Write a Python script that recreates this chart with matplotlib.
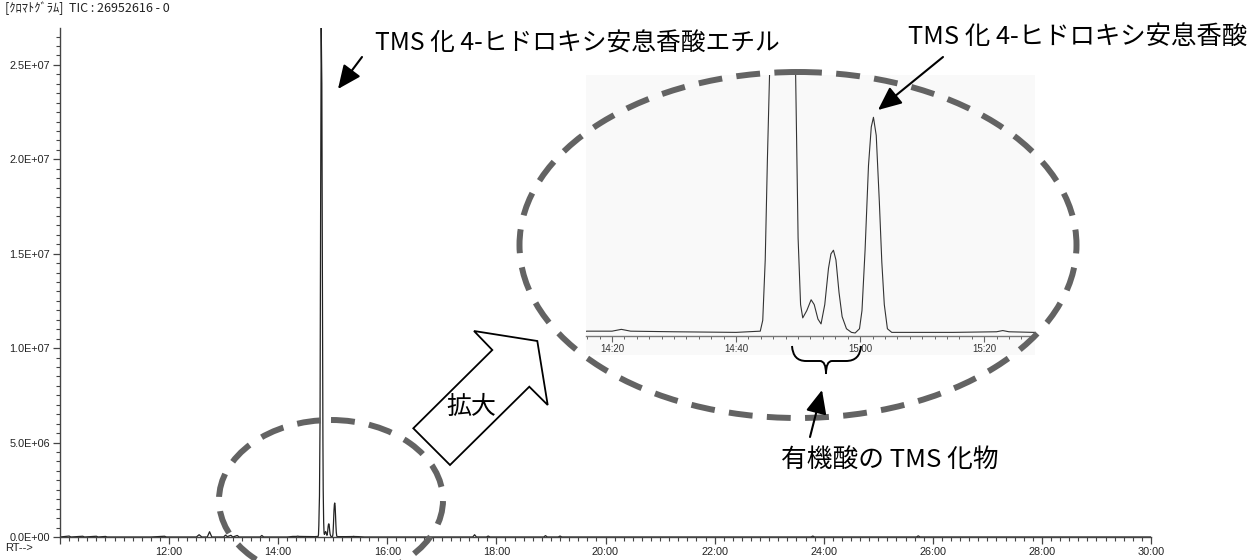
import matplotlib
matplotlib.use("Agg")
import matplotlib.pyplot as plt
from matplotlib import font_manager
from matplotlib.patches import Ellipse, Polygon, Rectangle, PathPatch
from matplotlib.path import Path
from matplotlib.ticker import MultipleLocator, FuncFormatter

# ---------------- data (retention time in seconds, TIC in 1e6 counts) ----------------
rt_s = [600, 610, 612, 625, 627, 640, 642, 650, 652, 700, 715, 717, 750, 753, 756,
        762, 764.5, 767, 780, 782, 784, 788, 790, 795, 797, 820, 822, 824, 850,
        856, 860, 861.5, 863, 870, 880, 883.9, 884.3, 884.7, 885.05, 885.4, 886.0,
        886.7, 887.3, 888.0, 888.6, 889.2, 889.5, 890.0, 890.4, 890.75, 891.4, 892.1,
        892.6, 893.2, 893.7, 894.3, 894.9, 895.3, 895.7, 896.1, 896.6, 897.1, 897.8,
        898.6, 899.2, 899.9, 900.3, 900.8, 901.35, 901.8, 902.15, 902.6, 903.1, 903.5,
        903.9, 904.4, 905.1, 915, 922, 923, 924, 928, 935,
        1054, 1056, 1058, 1069, 1071, 1073, 1132, 1134, 1136, 1148, 1150, 1152, 1426, 1428, 1430,
        1542, 1544, 1546, 1800]
tic_1e6 = [0.0, 0.05, 0.0, 0.04, 0.0, 0.04, 0.0, 0.03, 0.0, 0.0, 0.04, 0.0, 0.0, 0.12, 0.0,
           0.0, 0.28, 0.0, 0.0, 0.10, 0.02, 0.09, 0.0, 0.08, 0.0, 0.0, 0.08, 0.0, 0.0,
           0.03, 0.03, 0.045, 0.03, 0.025, 0.02, 0.03, 0.12, 0.62, 1.45, 2.16, 6.0,
           18.0, 26.95, 24.0, 14.0, 5.0, 2.5, 0.8, 0.25, 0.14, 0.20, 0.29,
           0.25, 0.13, 0.09, 0.25, 0.55, 0.67, 0.70, 0.62, 0.35, 0.15, 0.05,
           0.02, 0.015, 0.05, 0.20, 0.70, 1.40, 1.72, 1.80, 1.65, 1.10, 0.60,
           0.25, 0.05, 0.02, 0.02, 0.025, 0.035, 0.025, 0.02, 0.0,
           0.0, 0.12, 0.0, 0.0, 0.05, 0.0, 0.0, 0.07, 0.0, 0.0, 0.05, 0.0, 0.0, 0.05, 0.0,
           0.0, 0.06, 0.0, 0.0]

header = "[ｸﾛﾏﾄｸﾞﾗﾑ]  TIC : 26952616 - 0"
label_ester = "TMS 化 4-ヒドロキシ安息香酸エチル"
label_acid = "TMS 化 4-ヒドロキシ安息香酸"
label_organic = "有機酸の TMS 化物"
label_zoom = "拡大"

# ---------------- fonts ----------------
avail = {f.name for f in font_manager.fontManager.ttflist}
tick_font = ['Liberation Sans Narrow'] if 'Liberation Sans Narrow' in avail else ['Liberation Sans']
jp_font = ['Noto Sans CJK JP', 'DejaVu Sans']

W, H = 1259, 560
fig = plt.figure(figsize=(W / 100, H / 100), dpi=100)
fig.patch.set_facecolor('white')


def px_rect(x0, y0, x1, y1):
    return [x0 / W, 1 - y1 / H, (x1 - x0) / W, (y1 - y0) / H]


def mmss(v, pos=None):
    v = int(round(v))
    return f"{v // 60}:{v % 60:02d}"


# ---------------- main chromatogram ----------------
ax = fig.add_axes(px_rect(60, 28, 1151, 537))
ax.plot(rt_s, tic_1e6, color='#222222', lw=0.9)
ax.set_xlim(600, 1800)
ax.set_ylim(0, 26.952616)
for s in ['top', 'right']:
    ax.spines[s].set_visible(False)
for s in ['left', 'bottom']:
    ax.spines[s].set_color('#444444')
    ax.spines[s].set_linewidth(1.0)
ax.xaxis.set_major_locator(MultipleLocator(120))
ax.xaxis.set_minor_locator(MultipleLocator(10))
ax.xaxis.set_major_formatter(FuncFormatter(lambda v, p: '' if v < 660 else mmss(v)))
ax.yaxis.set_major_locator(MultipleLocator(5))
ax.yaxis.set_minor_locator(MultipleLocator(0.5))
ax.yaxis.set_major_formatter(FuncFormatter(lambda v, p: f"{v * 1e6:.1E}"))
ax.tick_params(which='major', length=5, width=0.9, color='#444444', labelsize=7.8, pad=2)
ax.tick_params(which='minor', length=3, width=0.8, color='#444444')
for lab in ax.get_xticklabels() + ax.get_yticklabels():
    lab.set_family(tick_font)
    lab.set_color('#222222')

# ---------------- inset (zoom) ----------------
bg = Rectangle((586 / W, 1 - 355 / H), (1035 - 586) / W, (355 - 75) / H,
               transform=fig.transFigure, facecolor='#f9f9f9', edgecolor='none', zorder=1)
fig.add_artist(bg)
axi = fig.add_axes(px_rect(586, 75, 1035, 336))
axi.set_zorder(2)
axi.patch.set_visible(False)
axi.plot(rt_s, tic_1e6, color='#333333', lw=0.8)
axi.set_xlim(855.8, 928.2)
axi.set_ylim(-0.01, 2.15)
for s in ['top', 'right', 'left']:
    axi.spines[s].set_visible(False)
axi.spines['bottom'].set_color('#777777')
axi.spines['bottom'].set_linewidth(1.0)
axi.set_yticks([])
axi.xaxis.set_major_locator(MultipleLocator(20))
axi.xaxis.set_minor_locator(MultipleLocator(2))
axi.xaxis.set_major_formatter(FuncFormatter(mmss))
axi.tick_params(which='major', length=4, width=0.8, color='#666666', labelsize=7, pad=1.5)
axi.tick_params(which='minor', length=2.5, width=0.7, color='#666666')
for lab in axi.get_xticklabels():
    lab.set_family(tick_font)
    lab.set_color('#333333')

# ---------------- overlay annotations (pixel coordinates) ----------------
ov = fig.add_axes([0, 0, 1, 1])
ov.set_zorder(3)
ov.patch.set_visible(False)
ov.set_xlim(0, W)
ov.set_ylim(H, 0)
ov.axis('off')

dash = (0, (4.0, 2.4))
ov.add_patch(Ellipse((798, 245), 557, 346, fill=False, edgecolor='#636363',
                     lw=4.3, linestyle=dash, capstyle='butt'))
ov.add_patch(Ellipse((331, 500), 224, 160, fill=False, edgecolor='#636363',
                     lw=4.3, linestyle=dash, capstyle='butt'))

arrow_pts = [(413.3, 428.3), (450, 465), (529.3, 386.7), (547.7, 405),
             (537.3, 341), (474, 331), (492.3, 350)]
ov.add_patch(Polygon(arrow_pts, closed=True, facecolor='white', edgecolor='black',
                     lw=1.3, joinstyle='miter'))
ov.text(471, 407, label_zoom, family=jp_font, fontsize=18, ha='center', va='center')

# curly brace
verts = [(792, 346), (793, 361), (806, 361), (820, 361), (826, 361), (826, 374),
         (826, 361), (832, 361), (846, 361), (860, 361), (861, 346)]
codes = [Path.MOVETO, Path.CURVE3, Path.CURVE3, Path.LINETO, Path.CURVE3, Path.CURVE3,
         Path.CURVE3, Path.CURVE3, Path.LINETO, Path.CURVE3, Path.CURVE3]
ov.add_patch(PathPatch(Path(verts, codes), facecolor='none', edgecolor='black', lw=1.4))

aprops = dict(arrowstyle='-|>,head_length=0.9,head_width=0.4', color='black', lw=1.5,
              mutation_scale=16, shrinkA=0, shrinkB=0)
ov.annotate('', xy=(338, 89), xytext=(362, 57), arrowprops=aprops)
ov.annotate('', xy=(878, 110), xytext=(943, 57), arrowprops=aprops)
ov.annotate('', xy=(822, 390), xytext=(810, 437), arrowprops=aprops)

ov.text(375, 44, label_ester, family=jp_font, fontsize=17.8, ha='left', va='center')
ov.text(1247, 37, label_acid, family=jp_font, fontsize=18.3, ha='right', va='center')
ov.text(781, 460, label_organic, family=jp_font, fontsize=18.5, ha='left', va='center')

ov.text(5, 8, header, family=jp_font, fontsize=9, ha='left', va='center', color='#222222')
ov.text(5, 548, "RT-->", family=tick_font, fontsize=8, ha='left', va='center', color='#222222')

fig.savefig("out.png", dpi=100)
